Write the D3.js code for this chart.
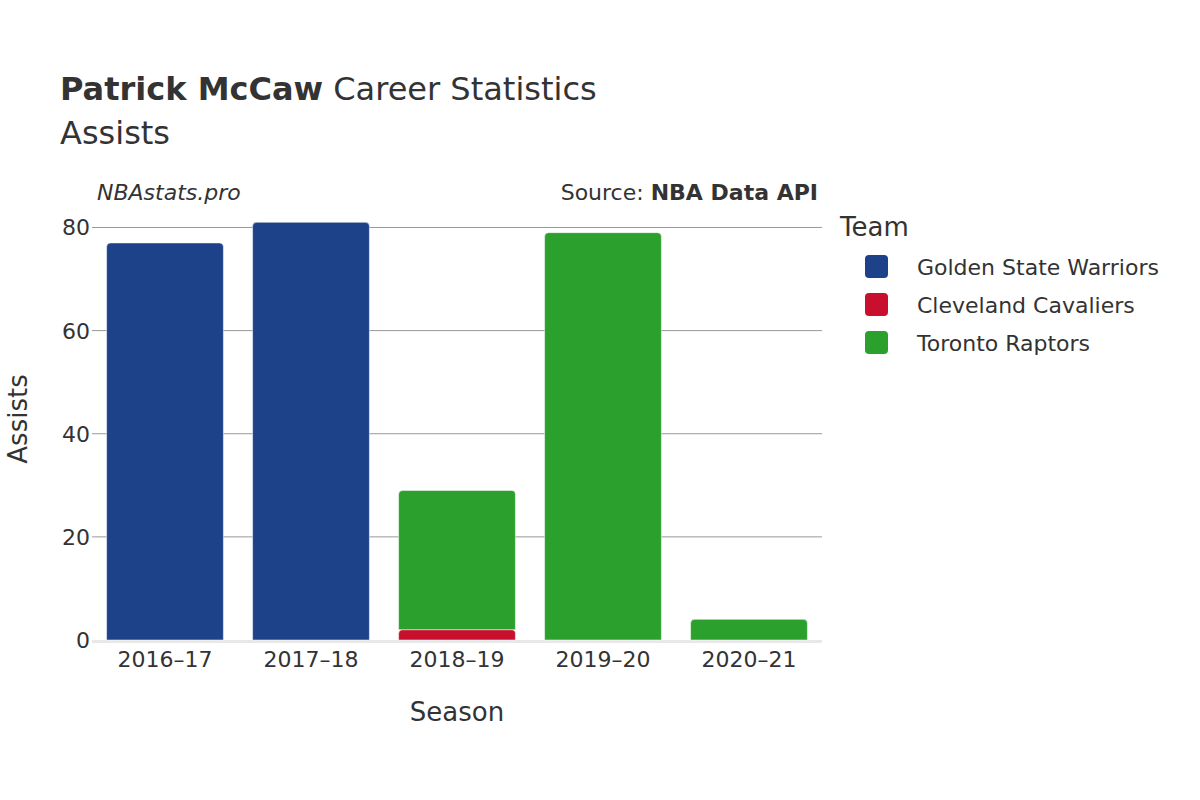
<!DOCTYPE html>
<html><head><meta charset="utf-8">
<script src="https://cdn.jsdelivr.net/npm/d3@7"></script>
<style>body{margin:0;background:#fff}text{font-family:"DejaVu Sans",sans-serif;fill:#333}</style>
</head><body><svg id="chart" width="1200" height="800"></svg>
<script>
const seasons = ['2016–17', '2017–18', '2018–19', '2019–20', '2020–21']
const teams = ['Golden State Warriors', 'Cleveland Cavaliers', 'Toronto Raptors']
const teamColors = ['#1d428a', '#c8102e', '#2ca02c']
// assists per season, one array per team
const gsw = [77, 81, 0, 0, 0]
const cle = [0, 0, 2, 0, 0]
const tor = [0, 0, 27, 79, 4]
const yTicks = [0, 20, 40, 60, 80]

const svg = d3.select('#chart')
const mLeft = 92, mRight = 822, mTop = 212, mBottom = 640

const x = d3.scaleBand().domain(seasons).range([mLeft, mRight]).paddingInner(0.2).paddingOuter(0.1)
const y = d3.scaleLinear().domain([0, 83]).range([mBottom, mTop])
const color = d3.scaleOrdinal().domain(teams).range(teamColors)

// grid
svg.append('g').selectAll('line').data(yTicks.slice(1)).enter().append('line')
  .attr('x1', mLeft).attr('x2', mRight).attr('y1', d => y(d)).attr('y2', d => y(d))
  .attr('stroke', '#999').attr('stroke-width', 1)
svg.append('line').attr('x1', mLeft).attr('x2', mRight).attr('y1', mBottom + 1.5).attr('y2', mBottom + 1.5)
  .attr('stroke', '#e8e8e8').attr('stroke-width', 3)

const rows = seasons.map((s, i) => ({season: s, 'Golden State Warriors': gsw[i], 'Cleveland Cavaliers': cle[i], 'Toronto Raptors': tor[i]}))
const stack = d3.stack().keys(teams)(rows)

function barPath(x0, w, y0, y1, r) {
  r = Math.min(r, (y0 - y1))
  return `M${x0},${y0}V${y1 + r}Q${x0},${y1} ${x0 + r},${y1}H${x0 + w - r}Q${x0 + w},${y1} ${x0 + w},${y1 + r}V${y0}Z`
}

stack.forEach(layer => {
  svg.append('g').selectAll('path').data(layer.filter(d => d[1] > d[0])).enter().append('path')
    .attr('d', d => barPath(x(d.data.season), x.bandwidth(), y(d[0]), y(d[1]), 4))
    .attr('fill', color(layer.key))
    .attr('stroke', '#fff').attr('stroke-width', 0.5)
})

// axes labels
svg.append('g').selectAll('text').data(yTicks).enter().append('text')
  .attr('x', mLeft - 2).attr('y', d => y(d) + 8).attr('text-anchor', 'end')
  .attr('font-size', 22).text(d => d)
svg.append('g').selectAll('text').data(seasons).enter().append('text')
  .attr('x', d => x(d) + x.bandwidth() / 2).attr('y', 667).attr('text-anchor', 'middle')
  .attr('font-size', 22).text(d => d)

svg.append('text').attr('x', 457).attr('y', 721).attr('text-anchor', 'middle').attr('font-size', 26).text('Season')
svg.append('text').attr('transform', 'translate(27,419) rotate(-90)').attr('text-anchor', 'middle').attr('font-size', 26).text('Assists')

// titles
const t = svg.append('text').attr('x', 60).attr('y', 100).attr('font-size', 32)
t.append('tspan').attr('font-weight', 'bold').text('Patrick McCaw')
t.append('tspan').text(' Career Statistics')
svg.append('text').attr('x', 60).attr('y', 144).attr('font-size', 32).text('Assists')
svg.append('text').attr('x', 97).attr('y', 200).attr('font-size', 22).attr('font-style', 'italic').text('NBAstats.pro')
const s = svg.append('text').attr('x', 818).attr('y', 200).attr('font-size', 22).attr('text-anchor', 'end')
s.append('tspan').text('Source: ')
s.append('tspan').attr('font-weight', 'bold').text('NBA Data API')

// legend
svg.append('text').attr('x', 840).attr('y', 236).attr('font-size', 26).text('Team')
const lg = svg.append('g').selectAll('g').data(teams).enter().append('g')
  .attr('transform', (d, i) => `translate(865,${255 + i * 38})`)
lg.append('rect').attr('width', 23).attr('height', 23).attr('rx', 4).attr('fill', d => color(d))
lg.append('text').attr('x', 52).attr('y', 20).attr('font-size', 22).text(d => d)
</script></body></html>
